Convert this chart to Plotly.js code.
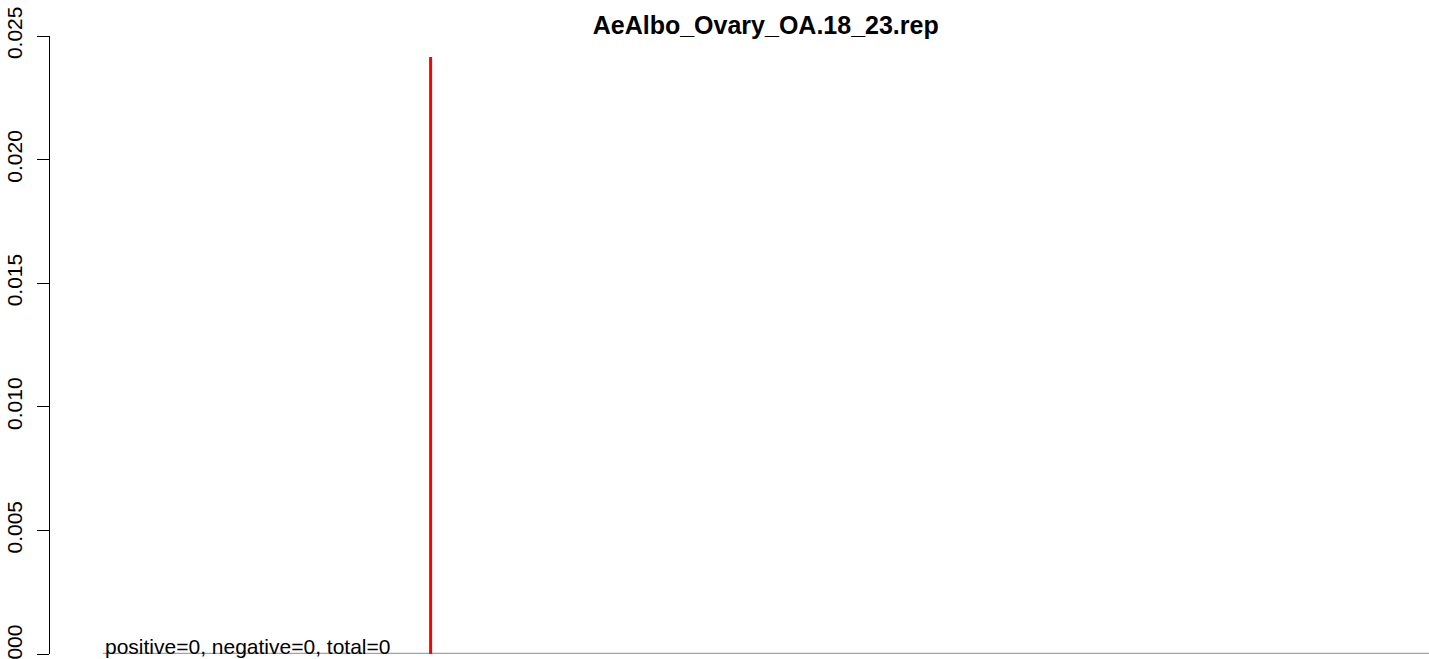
<!DOCTYPE html>
<html>
<head>
<meta charset="utf-8">
<script src="https://cdn.plot.ly/plotly-3.0.1.min.js"></script>
<style>html,body{margin:0;padding:0;background:#fff;}#chart{width:1429px;height:659px;}</style>
</head>
<body>
<div id="chart"></div>
<script>
// Data
const chartTitle = "AeAlbo_Ovary_OA.18_23.rep";
const xLimits = [0, 100];
const baselineX = [3.84, 100];
const baselineY = [0, 0];
const cutoffX = [27.6, 27.6];
const cutoffY = [0, 0.02415];
const yTickVals = [0, 0.005, 0.01, 0.015, 0.02, 0.025];
const yTickText = ["0.000", "0.005", "0.010", "0.015", "0.020", "0.025"];
const summaryText = "positive=0, negative=0, total=0";

const font = "Liberation Sans, Arial, sans-serif";

const traces = [
  {x: baselineX, y: baselineY, mode: "lines", line: {color: "#A3A3A3", width: 2.5}, cliponaxis: false, hoverinfo: "skip"},
  {x: cutoffX, y: cutoffY, mode: "lines", line: {color: "#FF0000", width: 3}, cliponaxis: false, hoverinfo: "skip"}
];

const layout = {
  width: 1429, height: 659,
  margin: {l: 50, r: 0, t: 36, b: 5, pad: 0},
  paper_bgcolor: "#fff", plot_bgcolor: "#fff",
  showlegend: false,
  font: {family: font, color: "#000"},
  title: {text: "<b>" + chartTitle + "</b>", font: {family: font, size: 25, color: "#000"}, x: 0.519, xref: "paper", xanchor: "center", y: 0.962, yref: "container", yanchor: "middle"},
  xaxis: {range: xLimits, visible: false, showgrid: false, zeroline: false, fixedrange: true},
  yaxis: {range: [0, 0.025], showgrid: false, zeroline: false, showline: true, linecolor: "#000", linewidth: 1,
          ticks: "outside", ticklen: 12, tickcolor: "#000", tickwidth: 1,
          tickvals: yTickVals, ticktext: yTickText, tickangle: -90, ticklabeloverflow: "allow",
          tickfont: {family: font, size: 21, color: "#000"}, ticklabelstandoff: 7},
  annotations: [{x: baselineX[0], y: 0, xref: "x", yref: "y", text: summaryText, showarrow: false,
                 xanchor: "left", yanchor: "bottom", yshift: -6, font: {family: font, size: 21, color: "#000"}}]
};

Plotly.newPlot("chart", traces, layout, {displayModeBar: false, staticPlot: true});
</script>
</body>
</html>
